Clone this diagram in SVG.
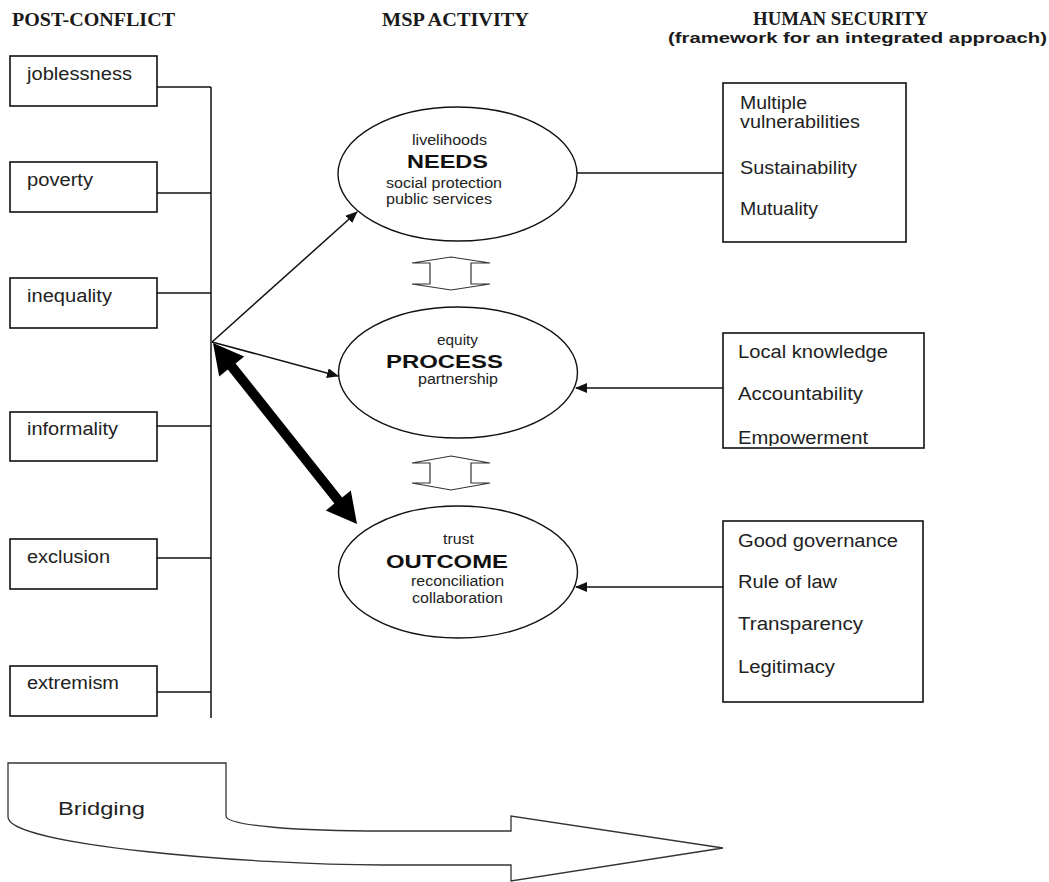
<svg xmlns="http://www.w3.org/2000/svg" width="1049" height="882" viewBox="0 0 1049 882">
<style>
.hdr{font-family:"Liberation Serif","Times New Roman",serif;font-weight:bold;font-size:19px;fill:#1a1a1a}
.sub{font-family:"Liberation Sans",Arial,sans-serif;font-weight:bold;font-size:15.5px;fill:#1a1a1a}
.lbl{font-family:"Liberation Sans",Arial,sans-serif;font-size:18px;fill:#222}
.sm{font-family:"Liberation Sans",Arial,sans-serif;font-size:14px;fill:#222}
.big{font-family:"Liberation Sans",Arial,sans-serif;font-weight:bold;font-size:19px;fill:#111}
.box{fill:#fff;stroke:#111;stroke-width:1.6}
.ell{fill:#fff;stroke:#111;stroke-width:1.4}
.ln{fill:none;stroke:#111;stroke-width:1.5}
.hol{fill:#fff;stroke:#333;stroke-width:1.2}
</style>
<defs>
<marker id="ah" markerWidth="12" markerHeight="10" refX="11" refY="5" orient="auto" markerUnits="userSpaceOnUse">
<path d="M0,0 L12,5 L0,10 Z" fill="#111"/>
</marker>
<clipPath id="clipB2"><rect x="723" y="333" width="201" height="113"/></clipPath>
</defs>

<text class="hdr" x="12" y="26" textLength="163" lengthAdjust="spacingAndGlyphs">POST-CONFLICT</text>
<text class="hdr" x="382" y="26" textLength="147" lengthAdjust="spacingAndGlyphs">MSP ACTIVITY</text>
<text class="hdr" x="753" y="25" textLength="175" lengthAdjust="spacingAndGlyphs">HUMAN SECURITY</text>
<text class="sub" x="668" y="43" textLength="379" lengthAdjust="spacingAndGlyphs">(framework for an integrated approach)</text>

<g id="connectors">
<line class="ln" x1="211" y1="87" x2="211" y2="718"/>
<line class="ln" x1="157" y1="87" x2="211" y2="87"/>
<line class="ln" x1="157" y1="193" x2="211" y2="193"/>
<line class="ln" x1="157" y1="293" x2="211" y2="293"/>
<line class="ln" x1="157" y1="426" x2="211" y2="426"/>
<line class="ln" x1="157" y1="558" x2="211" y2="558"/>
<line class="ln" x1="157" y1="692" x2="211" y2="692"/>
<line class="ln" x1="212" y1="342" x2="357" y2="212" marker-end="url(#ah)"/>
<line class="ln" x1="212" y1="342" x2="338" y2="376" marker-end="url(#ah)"/>
<polygon fill="#000" points="213,343 244.2,356.5 235.6,363.4 342.2,497.4 350.8,490.5 357,524 325.8,510.5 334.4,503.6 227.8,369.6 219.2,376.5"/>
<line class="ln" x1="577" y1="173" x2="723" y2="173"/>
<line class="ln" x1="723" y1="388" x2="576" y2="388" marker-end="url(#ah)" stroke="#444"/>
<line class="ln" x1="723" y1="587" x2="576" y2="587" marker-end="url(#ah)"/>
<path class="hol" d="M451,257 L490,263 L471,263 L471,284 L490,284 L451,290 L412,284 L430,284 L430,263 L412,263 Z"/>
<path class="hol" d="M451,456 L490,463 L471,463 L471,483 L490,483 L451,490 L412,483 L430,483 L430,463 L412,463 Z"/>
</g>

<g id="joblessness"><rect class="box" x="10" y="56" width="147" height="50"/><text class="lbl" x="27" y="80" textLength="105" lengthAdjust="spacingAndGlyphs">joblessness</text></g>
<g id="poverty"><rect class="box" x="10" y="162" width="147" height="50"/><text class="lbl" x="27" y="186" textLength="66" lengthAdjust="spacingAndGlyphs">poverty</text></g>
<g id="inequality"><rect class="box" x="10" y="278" width="147" height="50"/><text class="lbl" x="27" y="302" textLength="85" lengthAdjust="spacingAndGlyphs">inequality</text></g>
<g id="informality"><rect class="box" x="10" y="412" width="147" height="49"/><text class="lbl" x="27" y="435" textLength="91" lengthAdjust="spacingAndGlyphs">informality</text></g>
<g id="exclusion"><rect class="box" x="10" y="539" width="147" height="50"/><text class="lbl" x="27" y="563" textLength="83" lengthAdjust="spacingAndGlyphs">exclusion</text></g>
<g id="extremism"><rect class="box" x="10" y="666" width="147" height="50"/><text class="lbl" x="27" y="689" textLength="92" lengthAdjust="spacingAndGlyphs">extremism</text></g>

<g id="needs">
<ellipse class="ell" cx="457.5" cy="174" rx="119.5" ry="67"/>
<text class="sm" x="412" y="145" textLength="75" lengthAdjust="spacingAndGlyphs">livelihoods</text>
<text class="big" x="407" y="168" textLength="81" lengthAdjust="spacingAndGlyphs">NEEDS</text>
<text class="sm" x="386" y="188" textLength="116" lengthAdjust="spacingAndGlyphs">social protection</text>
<text class="sm" x="386" y="204" textLength="106" lengthAdjust="spacingAndGlyphs">public services</text>
</g>
<g id="process">
<ellipse class="ell" cx="458" cy="372.5" rx="119.5" ry="65.5"/>
<text class="sm" x="437" y="345" textLength="41" lengthAdjust="spacingAndGlyphs">equity</text>
<text class="big" x="386" y="368" textLength="117" lengthAdjust="spacingAndGlyphs">PROCESS</text>
<text class="sm" x="418" y="384" textLength="80" lengthAdjust="spacingAndGlyphs">partnership</text>
</g>
<g id="outcome">
<ellipse class="ell" cx="458" cy="572" rx="119.5" ry="66"/>
<text class="sm" x="443" y="544" textLength="31" lengthAdjust="spacingAndGlyphs">trust</text>
<text class="big" x="386" y="568" textLength="122" lengthAdjust="spacingAndGlyphs">OUTCOME</text>
<text class="sm" x="411" y="586" textLength="93" lengthAdjust="spacingAndGlyphs">reconciliation</text>
<text class="sm" x="412" y="603" textLength="91" lengthAdjust="spacingAndGlyphs">collaboration</text>
</g>

<g id="hs-needs">
<rect class="box" x="723" y="83" width="183" height="159"/>
<text class="lbl" x="740" y="109" textLength="67" lengthAdjust="spacingAndGlyphs">Multiple</text>
<text class="lbl" x="740" y="128" textLength="120" lengthAdjust="spacingAndGlyphs">vulnerabilities</text>
<text class="lbl" x="740" y="174" textLength="117" lengthAdjust="spacingAndGlyphs">Sustainability</text>
<text class="lbl" x="740" y="215" textLength="78" lengthAdjust="spacingAndGlyphs">Mutuality</text>
</g>
<g id="hs-process">
<rect class="box" x="723" y="333" width="201" height="115"/>
<g clip-path="url(#clipB2)">
<text class="lbl" x="738" y="358" textLength="150" lengthAdjust="spacingAndGlyphs">Local knowledge</text>
<text class="lbl" x="738" y="400" textLength="125" lengthAdjust="spacingAndGlyphs">Accountability</text>
<text class="lbl" x="738" y="444" textLength="130" lengthAdjust="spacingAndGlyphs">Empowerment</text>
</g>
</g>
<g id="hs-outcome">
<rect class="box" x="723" y="521" width="200" height="181"/>
<text class="lbl" x="738" y="547" textLength="160" lengthAdjust="spacingAndGlyphs">Good governance</text>
<text class="lbl" x="738" y="588" textLength="99" lengthAdjust="spacingAndGlyphs">Rule of law</text>
<text class="lbl" x="738" y="630" textLength="125" lengthAdjust="spacingAndGlyphs">Transparency</text>
<text class="lbl" x="738" y="673" textLength="97" lengthAdjust="spacingAndGlyphs">Legitimacy</text>
</g>

<g id="bridging">
<path fill="#fff" stroke="#333" stroke-width="1.3" d="M8,763 L226,763 L226,816 C226,826 300,831 383,831 L511,831 L511,816 L723,848 L511,881 L511,865 L383,865 C250,865 8,845 8,817 Z"/>
<text class="lbl" x="58" y="815" font-size="21" textLength="87" lengthAdjust="spacingAndGlyphs">Bridging</text>
</g>
</svg>
